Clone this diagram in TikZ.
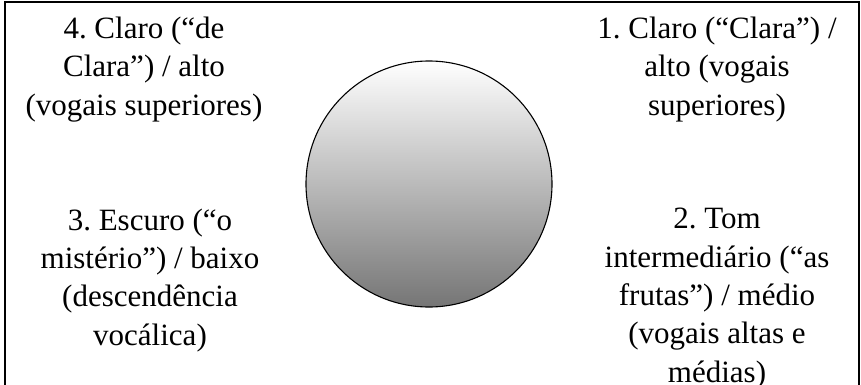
\documentclass[tikz,border=0pt]{standalone}
\usepackage{fontspec}
\setmainfont{Liberation Serif}
\frenchspacing
\begin{document}
\begin{tikzpicture}[x=1pt,y=1pt,line cap=round,
  quadtext/.style={align=center,anchor=base,inner sep=0pt,font=\fontsize{31}{38.3}\selectfont}]
  \useasboundingbox (0,0) rectangle (861,-385);
  \clip (0,0) rectangle (861,-385);
  \draw[line width=1.6pt] (5,-2) rectangle (859,-420);
  \node[circle,draw,line width=1.1pt,minimum size=246pt,inner sep=0pt,
        top color=white,bottom color=black!54] (tone) at (429,-184) {};
  \node[quadtext] (q4) at (144,-115) {4. Claro (“de\\Clara”) / alto\\(vogais superiores)};
  \node[quadtext] (q1) at (717,-115) {1. Claro (“Clara”) /\\alto (vogais\\superiores)};
  \node[quadtext] (q3) at (150,-345) {3. Escuro (“o\\mistério”) / baixo\\(descendência\\vocálica)};
  \node[quadtext] (q2) at (717,-382) {2. Tom\\intermediário (“as\\frutas”) / médio\\(vogais altas e\\médias)};
\end{tikzpicture}
\end{document}
